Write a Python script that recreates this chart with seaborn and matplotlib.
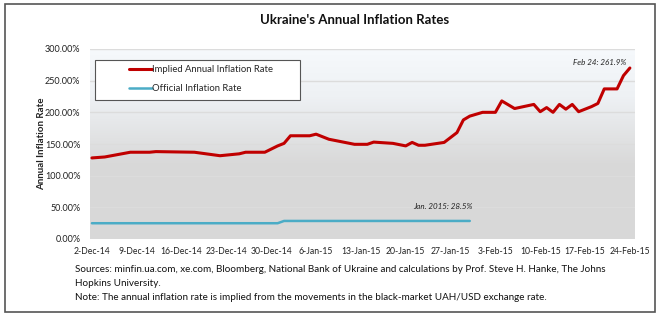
import numpy as np
import pandas as pd
import matplotlib
matplotlib.use("Agg")
import matplotlib.pyplot as plt
import matplotlib.dates as mdates
from matplotlib.ticker import FuncFormatter
from matplotlib.patches import Rectangle
from matplotlib.colors import LinearSegmentedColormap
from matplotlib.lines import Line2D
import seaborn as sns

# ---- data ----
implied_dates = ["2014-12-02", "2014-12-04", "2014-12-08", "2014-12-11", "2014-12-12",
                 "2014-12-18", "2014-12-22", "2014-12-25", "2014-12-26", "2014-12-29",
                 "2014-12-31", "2015-01-01", "2015-01-02", "2015-01-05", "2015-01-06",
                 "2015-01-08", "2015-01-12", "2015-01-14", "2015-01-15", "2015-01-18",
                 "2015-01-20", "2015-01-21", "2015-01-22", "2015-01-23", "2015-01-26",
                 "2015-01-28", "2015-01-29", "2015-01-30", "2015-02-01", "2015-02-03",
                 "2015-02-04", "2015-02-06", "2015-02-09", "2015-02-10", "2015-02-11",
                 "2015-02-12", "2015-02-13", "2015-02-14", "2015-02-15", "2015-02-16",
                 "2015-02-18", "2015-02-19", "2015-02-20", "2015-02-22", "2015-02-23",
                 "2015-02-24"]
implied_values = [128.0, 129.5, 137.0, 137.0, 138.0,
                  137.0, 131.5, 134.5, 137.0, 137.0,
                  147.0, 151.0, 163.0, 163.0, 165.5,
                  157.5, 149.5, 149.5, 153.0, 151.0,
                  147.0, 152.5, 148.0, 148.0, 152.5,
                  168.0, 188.0, 194.0, 200.0, 200.0,
                  218.0, 206.0, 212.5, 201.0, 207.5,
                  200.0, 212.5, 205.0, 212.5, 201.0,
                  209.0, 214.0, 237.0, 237.0, 258.0,
                  270.0]

official_dates = ["2014-12-02", "2014-12-31", "2015-01-01", "2015-01-30"]
official_values = [24.9, 24.9, 28.5, 28.5]

tick_dates = ["2014-12-02", "2014-12-09", "2014-12-16", "2014-12-23", "2014-12-30",
              "2015-01-06", "2015-01-13", "2015-01-20", "2015-01-27", "2015-02-03",
              "2015-02-10", "2015-02-17", "2015-02-24"]
tick_labels = ["2-Dec-14", "9-Dec-14", "16-Dec-14", "23-Dec-14", "30-Dec-14",
               "6-Jan-15", "13-Jan-15", "20-Jan-15", "27-Jan-15", "3-Feb-15",
               "10-Feb-15", "17-Feb-15", "24-Feb-15"]
y_ticks = [0, 50, 100, 150, 200, 250, 300]

series_names = ["Implied Annual Inflation Rate", "Official Inflation Rate"]
series_colors = ["#C00000", "#4BACC6"]

df = pd.concat([
    pd.DataFrame({"date": pd.to_datetime(implied_dates), "rate": implied_values,
                  "series": series_names[0]}),
    pd.DataFrame({"date": pd.to_datetime(official_dates), "rate": official_values,
                  "series": series_names[1]}),
], ignore_index=True)

# ---- styling ----
sns.set_theme(style="white")
plt.rcParams["font.family"] = ["Lato", "DejaVu Sans"]

W, H = 662, 322
fig = plt.figure(figsize=(W / 100, H / 100), dpi=100)
fig.patch.set_facecolor("white")

# outer frame
fig.add_artist(Rectangle((5 / W, 1 - 312 / H), (655 - 5) / W, (312 - 4) / H,
                         transform=fig.transFigure, fill=False,
                         edgecolor="#555555", linewidth=1.2))

AX_L, AX_R, AX_T, AX_B = 90, 635, 49, 239
ax = fig.add_axes([AX_L / W, 1 - AX_B / H, (AX_R - AX_L) / W, (AX_B - AX_T) / H])

def px_to_axes(px, py):
    return (px - AX_L) / (AX_R - AX_L), (AX_B - py) / (AX_B - AX_T)

x0 = mdates.date2num(pd.Timestamp("2014-12-02")) - 0.3
x1 = mdates.date2num(pd.Timestamp("2015-02-24")) + 0.8

# gradient background (light at top, gray toward bottom)
cmap = LinearSegmentedColormap.from_list(
    "bg", [(0.0, "#f6f9fc"), (0.25, "#eef1f4"), (0.6, "#d9d9d9"), (1.0, "#d8d8d8")])
grad = np.linspace(0, 1, 256).reshape(-1, 1)
ax.imshow(grad, aspect="auto", cmap=cmap, extent=[x0, x1, 0, 300], zorder=0,
          origin="upper")
ax.set_xlim(x0, x1)
ax.set_ylim(0, 300)

for yv in y_ticks[1:]:
    ax.axhline(yv, color="#dcdcdc", linewidth=1.0, zorder=1)

sns.lineplot(data=df, x="date", y="rate", hue="series", palette=series_colors,
             hue_order=series_names, ax=ax, legend=False, zorder=3)
for line, lw in zip(ax.get_lines()[-2:], [2.2, 1.8]):
    line.set_linewidth(lw)
    line.set_solid_joinstyle("round")

ax.set_xlim(x0, x1)
ax.set_ylim(0, 300)
ax.set_xticks(mdates.date2num(pd.to_datetime(tick_dates)))
ax.set_xticklabels(tick_labels, fontsize=6.2, color="#222222")
ax.set_yticks(y_ticks)
ax.yaxis.set_major_formatter(FuncFormatter(lambda v, p: f"{v:.2f}%"))
ax.tick_params(axis="y", labelsize=6.5, colors="#222222", length=0, pad=7)
ax.tick_params(axis="x", length=0, pad=6)
ax.set_xlabel("")
ax.set_ylabel("Annual Inflation Rate", fontsize=7, fontweight="bold",
              color="#222222")
ax.yaxis.set_label_coords(px_to_axes(46, 0)[0], 0.5)
for s in ax.spines.values():
    s.set_visible(False)

# legend frame
lx0, ly0 = px_to_axes(95, 100)
lx1, ly1 = px_to_axes(300, 60)
ax.add_patch(Rectangle((lx0, ly0), lx1 - lx0, ly1 - ly0, transform=ax.transAxes,
                       facecolor="white", edgecolor="#555555", linewidth=0.8,
                       zorder=4))
handles = [Line2D([], [], color=series_colors[0], lw=2.2),
           Line2D([], [], color=series_colors[1], lw=1.8)]
ax_anchor = px_to_axes(129, 65)
leg = ax.legend(handles, series_names, loc="upper left", bbox_to_anchor=ax_anchor,
                fontsize=6.8, frameon=False, handlelength=2.4,
                handletextpad=0.0, labelspacing=1.1, borderpad=0.0,
                borderaxespad=0)
leg.set_zorder(5)

# annotations
ax.text(mdates.date2num(pd.Timestamp("2015-02-24")) - 0.5, 279, "Feb 24: 261.9%",
        fontsize=5.8, style="italic", ha="right", va="center", color="#222222")
ax.text(mdates.date2num(pd.Timestamp("2015-01-30")) + 0.4, 52, "Jan. 2015: 28.5%",
        fontsize=5.8, style="italic", ha="right", va="center", color="#222222")

# title and notes
fig.text(355 / W, 1 - 20 / H, "Ukraine's Annual Inflation Rates", ha="center",
         va="center", fontsize=9.5, fontweight="bold", color="#111111")
fs = 7.1
fig.text(75 / W, 1 - 270 / H,
         "Sources: minfin.ua.com, xe.com, Bloomberg, National Bank of Ukraine and "
         "calculations by Prof. Steve H. Hanke, The Johns", ha="left", va="center",
         fontsize=fs, color="#111111")
fig.text(75 / W, 1 - 284 / H, "Hopkins University.", ha="left", va="center",
         fontsize=fs, color="#111111")
fig.text(75 / W, 1 - 298 / H,
         "Note: The annual inflation rate is implied from the movements in the "
         "black-market UAH/USD exchange rate.", ha="left", va="center",
         fontsize=fs, color="#111111")

fig.savefig("out.png", dpi=100)
